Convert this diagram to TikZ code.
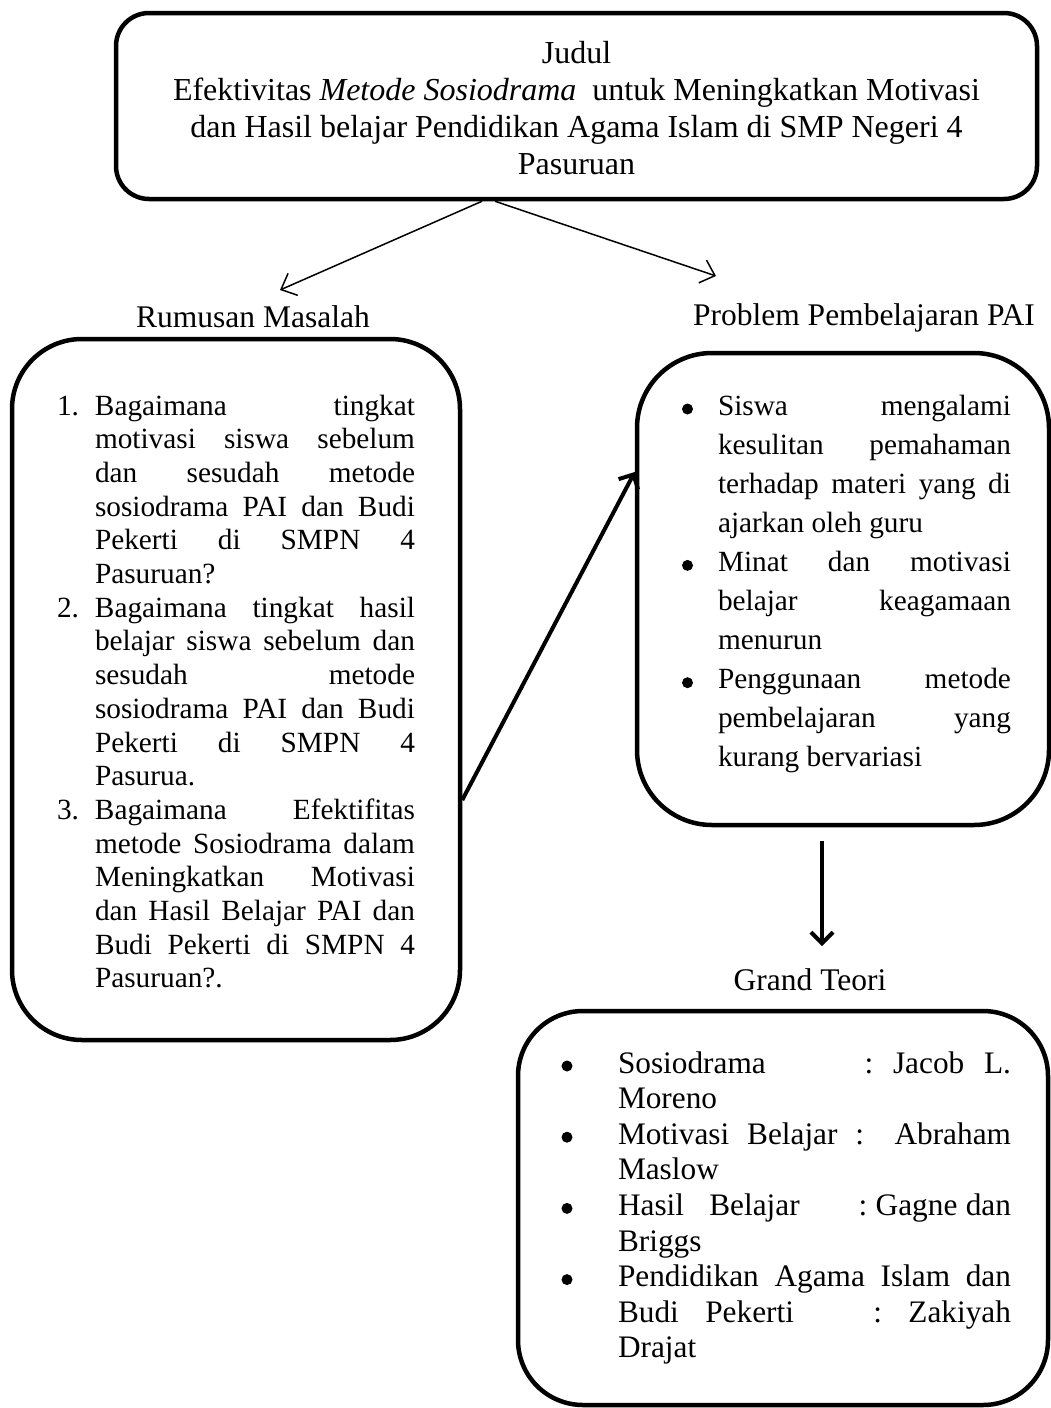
\documentclass[tikz,border=0pt]{standalone}
\usepackage{fontspec}
\setmainfont{Liberation Serif}
\usetikzlibrary{arrows.meta}
\newcommand{\fs}[1]{\fontsize{29.3}{#1}\selectfont}
\newcommand{\jl}[2]{\makebox[#1][s]{#2}}
\newcommand{\mk}[2]{\leavevmode\llap{\makebox[#1][l]{#2}}}
\begin{document}
\begin{tikzpicture}[x=1pt,y=-1pt,
  box/.style={draw, line width=4.5pt, inner sep=0pt},
  txt/.style={inner sep=0pt, outer sep=0pt, anchor=base west},
  lbl/.style={inner sep=0pt, outer sep=0pt, anchor=base, font=\fontsize{31.5}{35}\selectfont},
  bul/.style={circle, fill, inner sep=0pt, minimum size=11pt},
  thinarr/.style={line width=1.5pt, -{Straight Barb[length=13pt,width=24pt]}},
  thickarr/.style={line width=4pt, -{Straight Barb[length=11pt,width=22pt]}}]
\useasboundingbox (0,0) rectangle (1051,1408);

% boxes
\node[box, rounded corners=33pt, minimum width=921pt, minimum height=186pt] (top) at (576.5,106) {};
\node[box, rounded corners=70pt, minimum width=448pt, minimum height=701pt] (boxrm) at (236,689.5) {};
\node[box, rounded corners=75pt, minimum width=412pt, minimum height=472pt] (boxpp) at (843,589) {};
\node[box, rounded corners=65pt, minimum width=530pt, minimum height=394pt] (boxgt) at (783,1208) {};

% title text
\node[inner sep=0pt, anchor=base] (txttop) at (576.5,63) {\begin{minipage}[t]{900pt}\centering\fontsize{32}{37}\selectfont
Judul\\
Efektivitas \textit{Metode Sosiodrama}\ \ untuk Meningkatkan Motivasi\\
dan Hasil belajar Pendidikan Agama Islam di SMP Negeri 4\\
Pasuruan\end{minipage}};

% labels
\node[lbl] (lblrm) at (253,327) {Rumusan Masalah};
\node[lbl] (lblpp) at (864,325) {Problem Pembelajaran PAI};
\node[lbl] (lblgt) at (810,990) {Grand Teori};

% left list
\node[txt] (txtrm) at (95,415) {\begin{minipage}[t]{320pt}\fs{33.7}%
\mk{38pt}{1.}\jl{320pt}{Bagaimana tingkat}\\
\jl{320pt}{motivasi siswa sebelum}\\
\jl{320pt}{dan sesudah metode}\\
\jl{320pt}{sosiodrama PAI dan Budi}\\
\jl{320pt}{Pekerti di SMPN 4}\\
Pasuruan?\\
\mk{38pt}{2.}\jl{320pt}{Bagaimana tingkat hasil}\\
\jl{320pt}{belajar siswa sebelum dan}\\
\jl{320pt}{sesudah metode}\\
\jl{320pt}{sosiodrama PAI dan Budi}\\
\jl{320pt}{Pekerti di SMPN 4}\\
Pasurua.\\
\mk{38pt}{3.}\jl{320pt}{Bagaimana Efektifitas}\\
\jl{320pt}{metode Sosiodrama dalam}\\
\jl{320pt}{Meningkatkan Motivasi}\\
\jl{320pt}{dan Hasil Belajar PAI dan}\\
\jl{320pt}{Budi Pekerti di SMPN 4}\\
Pasuruan?.\end{minipage}};

% right list
\node[txt] (txtpp) at (718,415) {\begin{minipage}[t]{293pt}\fs{39.1}%
\jl{293pt}{Siswa mengalami}\\
\jl{293pt}{kesulitan pemahaman}\\
\jl{293pt}{terhadap materi yang di}\\
ajarkan oleh guru\\
\jl{293pt}{Minat dan motivasi}\\
\jl{293pt}{belajar keagamaan}\\
menurun\\
\jl{293pt}{Penggunaan metode}\\
\jl{293pt}{pembelajaran yang}\\
kurang bervariasi\end{minipage}};
\node[bul] (bp1) at (687.5,409) {};
\node[bul] (bp2) at (687.5,565.4) {};
\node[bul] (bp3) at (687.5,682.7) {};

% bottom list
\node[txt] (txtgt) at (618,1073) {\begin{minipage}[t]{393pt}\fontsize{31.3}{35.6}\selectfont
\makebox[393pt][s]{Sosiodrama\hspace{\stretch{5}}:\hspace{\stretch{1}}Jacob\hspace{\stretch{1}}L.}\\
Moreno\\
\jl{393pt}{Motivasi Belajar : Abraham}\\
Maslow\\
\makebox[393pt][s]{Hasil\hspace{\stretch{3}}Belajar\hspace{\stretch{7}}:\hspace{\stretch{1}}Gagne\hspace{\stretch{1}}dan}\\
Briggs\\
\jl{393pt}{Pendidikan Agama Islam dan}\\
\makebox[393pt][s]{Budi\hspace{\stretch{1}}Pekerti\hspace{\stretch{3}}:\hspace{\stretch{1}}Zakiyah}\\
Drajat\end{minipage}};
\node[bul] (bg1) at (567,1066) {};
\node[bul] (bg2) at (567,1137.2) {};
\node[bul] (bg3) at (567,1208.4) {};
\node[bul] (bg4) at (567,1279.6) {};

% connectors
\coordinate (a1) at (280,290);
\coordinate (a2) at (716,276);
\coordinate (d1) at (822,946);
\draw[thinarr] ([xshift=-94.5pt]top.south) -- (a1);
\draw[thinarr] ([xshift=-81.5pt]top.south) -- (a2);
\draw[thickarr] ([yshift=-110.5pt]boxrm.east) -- ([yshift=117pt]boxpp.west);
\draw[thickarr] ([xshift=-21pt,yshift=-14pt]boxpp.south) -- (d1);
\end{tikzpicture}
\end{document}
